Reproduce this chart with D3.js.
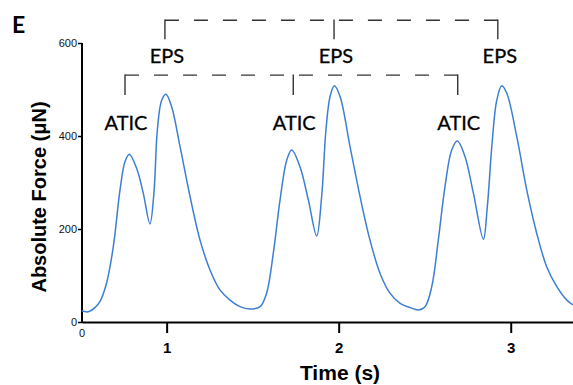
<!DOCTYPE html>
<html>
<head>
<meta charset="utf-8">
<script src="https://cdn.jsdelivr.net/npm/d3@7"></script>
<style>
  body { margin: 0; background: #fff; }
  svg { display: block; }
</style>
</head>
<body>
<div id="chart"></div>
<script>
// Force trace: time (s) and absolute force (µN)
const time = [
  0.506, 0.544, 0.583, 0.612, 0.651, 0.690, 0.729, 0.758, 0.783, 0.826,
  0.864, 0.903, 0.926, 0.946, 0.971, 0.996, 1.029, 1.078, 1.136, 1.194,
  1.252, 1.310, 1.368, 1.426, 1.484, 1.543, 1.581, 1.620, 1.659, 1.698,
  1.727, 1.775, 1.824, 1.872, 1.901, 1.926, 1.950, 1.975, 2.008, 2.066,
  2.124, 2.182, 2.240, 2.298, 2.357, 2.415, 2.463, 2.502, 2.541, 2.579,
  2.618, 2.657, 2.690, 2.734, 2.783, 2.841, 2.864, 2.890, 2.919, 2.948,
  2.977, 3.035, 3.093, 3.151, 3.209, 3.268, 3.326, 3.362
];
const force = [
  24, 22, 31, 44, 84, 162, 284, 345, 361, 330,
  277, 211, 277, 413, 477, 490, 463, 377, 270, 176,
  112, 69, 47, 33, 28, 33, 62, 148, 262, 348,
  370, 334, 262, 185, 270, 413, 485, 508, 485, 377,
  270, 176, 105, 62, 40, 31, 26, 33, 76, 176,
  291, 370, 389, 356, 277, 178, 248, 377, 477, 508,
  492, 399, 284, 191, 119, 76, 47, 37
];

const yTicks = [0, 200, 400, 600];
const xTicks = [1, 2, 3];

// Event markers (times in s)
const epsTimes = [0.99, 1.973, 2.925];
const aticTimes = [0.758, 1.736, 2.692];
const epsLabel = 'EPS';
const aticLabel = 'ATIC';

const width = 573, height = 385;
const data = time.map((t, i) => ({ t, f: force[i] }));

const svg = d3.select('#chart').append('svg')
  .attr('width', width)
  .attr('height', height);

const x = d3.scaleLinear().domain([0.508, 3.362]).range([82, 573]);
const y = d3.scaleLinear().domain([0, 600]).range([322, 43]);

// Panel letter
svg.append('text')
  .attr('x', 12).attr('y', 33)
  .attr('font-family', 'Lato, sans-serif')
  .attr('font-weight', 'bold')
  .attr('font-size', 23)
  .text('E');

// Y axis
const yAxis = svg.append('g')
  .attr('transform', `translate(${x.range()[0]},0)`)
  .call(d3.axisLeft(y).tickValues(yTicks).tickSize(4).tickPadding(1).tickSizeOuter(0));
yAxis.select('.domain').attr('stroke-width', 2).attr('d', `M0,${y(600)}V${y(0) + 1}`);
yAxis.selectAll('.tick line').attr('stroke-width', 1.5);
yAxis.selectAll('.tick text')
  .attr('font-family', '"Liberation Sans", Arial, sans-serif')
  .attr('font-size', 11)
  .attr('fill', '#111');

// X axis
const xAxis = svg.append('g')
  .attr('transform', `translate(0,${y(0)})`)
  .call(d3.axisBottom(x).tickValues(xTicks).tickFormat(d3.format('d'))
    .tickSize(11).tickPadding(9).tickSizeOuter(0));
xAxis.select('.domain').attr('stroke-width', 2);
xAxis.selectAll('.tick line').attr('stroke-width', 2);
xAxis.selectAll('.tick text')
  .attr('font-family', '"Liberation Sans", Arial, sans-serif')
  .attr('font-weight', 'bold')
  .attr('font-size', 15)
  .attr('fill', '#000');

// origin label
svg.append('text')
  .attr('x', x.range()[0]).attr('y', y(0) + 15)
  .attr('text-anchor', 'middle')
  .attr('font-family', '"Liberation Sans", Arial, sans-serif')
  .attr('font-size', 11)
  .attr('fill', '#111')
  .text('0');

// Axis titles
svg.append('text')
  .attr('x', 340).attr('y', 380)
  .attr('text-anchor', 'middle')
  .attr('font-family', '"Liberation Sans", Arial, sans-serif')
  .attr('font-weight', 'bold')
  .attr('font-size', 21)
  .text('Time (s)');

svg.append('text')
  .attr('transform', 'translate(46,197) rotate(-90)')
  .attr('text-anchor', 'middle')
  .attr('font-family', '"Liberation Sans", Arial, sans-serif')
  .attr('font-weight', 'bold')
  .attr('font-size', 20)
  .text('Absolute Force (μN)');

// Trace
const line = d3.line()
  .x(d => x(d.t))
  .y(d => y(d.f))
  .curve(d3.curveCatmullRom.alpha(0.5));

svg.append('path')
  .datum(data)
  .attr('fill', 'none')
  .attr('stroke', '#3c7fd4')
  .attr('stroke-width', 1.5)
  .attr('d', line);

// Bracket annotations
function bracket(times, topVal, tickLen, label, labelBaseline, labelDx) {
  const g = svg.append('g');
  const top = y(topVal);
  g.append('line')
    .attr('x1', x(times[0])).attr('x2', x(times[times.length - 1]))
    .attr('y1', top).attr('y2', top)
    .attr('stroke', '#333').attr('stroke-width', 1.4)
    .attr('stroke-dasharray', '14,15');
  g.selectAll('.tick')
    .data(times)
    .enter().append('line')
    .attr('x1', d => x(d)).attr('x2', d => x(d))
    .attr('y1', top - 0.7).attr('y2', top + tickLen)
    .attr('stroke', '#333').attr('stroke-width', 1.4);
  g.selectAll('.lbl')
    .data(times)
    .enter().append('text')
    .attr('x', d => x(d) + labelDx)
    .attr('y', labelBaseline)
    .attr('text-anchor', 'middle')
    .attr('font-family', 'Lato, sans-serif')
    .attr('font-size', 20)
    .attr('fill', '#000')
    .attr('stroke', '#000')
    .attr('stroke-width', 0.3)
    .text(label);
}

bracket(epsTimes, 649, 19, epsLabel, 63, 2);
bracket(aticTimes, 531, 20, aticLabel, 130, 1);
</script>
</body>
</html>
